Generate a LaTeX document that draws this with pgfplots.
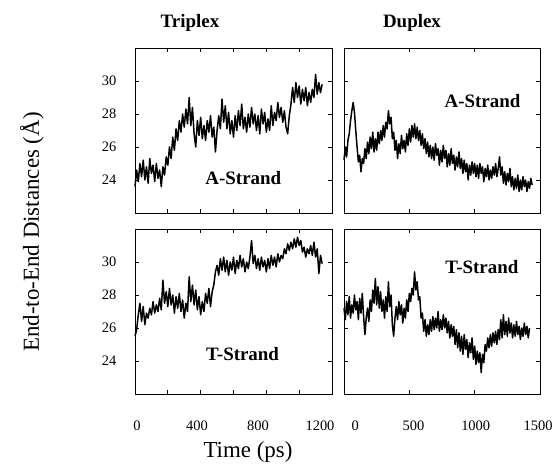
\documentclass[border=0pt]{standalone}
\usepackage{pgfplots}
\pgfplotsset{compat=1.18}
\usepackage{fontspec}
\setmainfont{Liberation Serif}
\tikzset{plab/.style={font=\bfseries\fontsize{19}{22}\selectfont}}
\begin{document}
\begin{tikzpicture}
\useasboundingbox (0,0) rectangle (556bp,466bp);
\pgfplotsset{
  panel/.style={
    scale only axis, width=197bp, height=165bp, anchor=south west,
    ymin=22, ymax=32, ytick={24,26,28,30},
    tick align=inside, major tick length=4bp,
    axis line style={line width=0.8pt},
    every tick/.style={line width=0.8pt, black},
    /pgf/number format/assume math mode=true,
    tick label style={font=\fontsize{14.5}{16}\selectfont},
    xticklabel style={anchor=center, yshift=-32bp},
    yticklabel style={anchor=center, xshift=-26bp},
    clip=false,
  },
  trace/.style={black, line width=1.5pt, no marks, line join=round},
}
% Top-left: Triplex A-strand
\begin{axis}[panel, at={(135bp,253bp)}, xmin=0, xmax=1200, xtick={0,200,...,1200}, xticklabels={}]
\addplot[trace] coordinates {(0,23.6)(10,24.6)(20,23.9)(30,25.0)(40,24.2)(50,25.2)(60,24.0)(70,24.8)(80,23.8)(90,25.3)(100,24.4)(110,24.9)(120,23.9)(130,25.0)(140,24.1)(150,24.6)(160,23.6)(170,24.8)(180,24.3)(190,25.4)(200,24.9)(210,26.0)(220,25.3)(230,26.6)(240,25.8)(250,27.1)(260,26.4)(270,27.6)(280,26.9)(290,28.0)(300,27.2)(310,28.3)(320,27.4)(330,29.0)(340,27.3)(350,28.4)(360,26.8)(370,26.0)(380,27.6)(390,26.7)(400,27.8)(410,26.5)(420,27.3)(430,26.4)(440,27.6)(450,26.9)(460,27.9)(470,26.6)(480,27.2)(490,25.7)(500,27.0)(510,27.9)(520,27.1)(530,28.9)(540,27.5)(550,28.5)(560,27.1)(570,28.1)(580,26.8)(590,27.6)(600,26.6)(610,27.9)(620,27.0)(630,28.2)(640,27.3)(650,28.6)(660,27.1)(670,27.8)(680,26.9)(690,28.0)(700,27.2)(710,28.4)(720,27.4)(730,28.0)(740,27.0)(750,27.9)(760,26.8)(770,28.3)(780,27.4)(790,28.1)(800,26.9)(810,27.7)(820,27.0)(830,28.5)(840,27.3)(850,28.1)(860,27.6)(870,28.7)(880,27.8)(890,28.4)(900,27.5)(910,28.2)(920,27.2)(930,26.8)(940,27.9)(950,28.6)(960,29.6)(970,28.7)(980,29.9)(990,29.0)(1000,29.7)(1010,28.6)(1020,29.5)(1030,28.8)(1040,29.6)(1050,28.5)(1060,29.3)(1070,28.7)(1080,29.5)(1090,29.0)(1100,30.4)(1110,29.2)(1120,29.9)(1130,29.3)(1140,29.8)};
\node[plab] at (axis cs:660,24.1) {A-Strand};
\end{axis}
% Top-right: Duplex A-strand
\begin{axis}[panel, at={(344bp,253bp)}, width=196bp, xmin=0, xmax=1500, xtick={0,500,1000,1500}, xticklabels={}, yticklabels={}]
\addplot[trace] coordinates {(0,25.2)(10,26.0)(20,25.4)(30,26.4)(40,26.8)(50,27.6)(60,28.2)(70,28.7)(80,28.1)(90,27.0)(100,26.0)(110,25.1)(120,25.5)(130,24.5)(140,25.3)(150,25.0)(160,25.9)(170,25.3)(180,26.3)(190,25.6)(200,26.6)(210,25.9)(220,26.9)(230,25.7)(240,26.5)(250,25.8)(260,26.9)(270,26.2)(280,27.0)(290,26.4)(300,27.3)(310,26.6)(320,27.5)(330,27.1)(340,28.2)(350,27.4)(360,27.8)(370,26.5)(380,26.9)(390,25.8)(400,26.4)(410,25.3)(420,26.2)(430,25.6)(440,26.7)(450,25.9)(460,26.4)(470,25.7)(480,26.8)(490,26.1)(500,27.1)(510,26.3)(520,27.3)(530,26.6)(540,27.4)(550,26.5)(560,27.2)(570,26.4)(580,27.0)(590,26.1)(600,26.8)(610,25.9)(620,26.5)(630,25.6)(640,26.3)(650,25.4)(660,26.1)(670,25.3)(680,26.0)(690,25.2)(700,26.2)(710,25.5)(720,25.9)(730,24.9)(740,25.8)(750,25.1)(760,26.1)(770,25.3)(780,25.8)(790,24.8)(800,25.6)(810,24.9)(820,25.9)(830,25.0)(840,25.5)(850,24.6)(860,25.4)(870,24.8)(880,25.7)(890,24.7)(900,25.3)(910,24.4)(920,25.2)(930,24.5)(940,25.0)(950,24.0)(960,24.9)(970,24.3)(980,25.1)(990,24.4)(1000,25.0)(1010,24.2)(1020,24.9)(1030,24.1)(1040,25.0)(1050,24.4)(1060,24.8)(1070,23.9)(1080,24.7)(1090,24.2)(1100,24.9)(1110,24.0)(1120,24.6)(1130,24.1)(1140,24.8)(1150,24.3)(1160,25.0)(1170,24.2)(1180,24.7)(1190,25.4)(1200,24.3)(1210,24.8)(1220,23.8)(1230,24.5)(1240,23.7)(1250,24.4)(1260,23.9)(1270,24.7)(1280,23.6)(1290,24.2)(1300,23.4)(1310,24.1)(1320,23.5)(1330,24.3)(1340,23.3)(1350,24.0)(1360,23.4)(1370,24.2)(1380,23.6)(1390,24.0)(1400,23.3)(1410,23.9)(1420,23.5)(1430,24.1)(1440,23.7)};
\node[plab] at (axis cs:1060,28.8) {A-Strand};
\end{axis}
% Bottom-left: Triplex T-strand
\begin{axis}[panel, at={(135bp,72bp)}, xmin=0, xmax=1200, xtick={0,200,...,1200}, xticklabels={},
  extra x ticks={12,378,749,1127}, extra x tick labels={0,400,800,1200},
  extra x tick style={major tick length=0pt}]
\addplot[trace] coordinates {(0,25.5)(10,25.9)(20,26.8)(30,27.5)(40,26.4)(50,27.3)(60,26.2)(70,26.9)(80,26.6)(90,27.2)(100,26.8)(110,27.6)(120,26.9)(130,27.4)(140,27.0)(150,27.8)(160,27.1)(170,28.9)(180,27.5)(190,28.2)(200,27.3)(210,28.4)(220,27.4)(230,28.0)(240,26.9)(250,27.9)(260,27.2)(270,28.1)(280,27.0)(290,27.7)(300,26.6)(310,27.5)(320,27.0)(330,29.1)(340,27.6)(350,28.6)(360,27.4)(370,28.3)(380,27.1)(390,27.9)(400,26.8)(410,27.6)(420,27.0)(430,28.1)(440,27.5)(450,28.4)(460,27.3)(470,28.2)(480,28.6)(490,29.4)(500,29.8)(510,29.2)(520,30.2)(530,29.5)(540,30.3)(550,29.4)(560,30.1)(570,29.2)(580,30.0)(590,29.5)(600,30.3)(610,29.3)(620,30.1)(630,29.6)(640,30.4)(650,29.7)(660,30.2)(670,29.4)(680,30.0)(690,29.6)(700,30.3)(710,31.3)(720,29.9)(730,30.4)(740,29.6)(750,30.2)(760,29.5)(770,30.3)(780,29.7)(790,30.1)(800,29.4)(810,30.2)(820,29.6)(830,30.4)(840,29.8)(850,30.3)(860,29.7)(870,30.5)(880,30.0)(890,30.4)(900,30.2)(910,30.8)(920,30.5)(930,31.1)(940,30.7)(950,31.2)(960,30.8)(970,31.4)(980,30.9)(990,31.5)(1000,31.0)(1010,31.3)(1020,30.6)(1030,30.9)(1040,30.3)(1050,30.8)(1060,30.5)(1070,31.0)(1080,30.4)(1090,31.2)(1100,30.3)(1110,30.8)(1120,29.3)(1130,30.4)(1140,29.9)};
\node[plab] at (axis cs:655,24.4) {T-Strand};
\end{axis}
% Bottom-right: Duplex T-strand
\begin{axis}[panel, at={(344bp,72bp)}, width=196bp, xmin=0, xmax=1500, xtick={0,500,1000,1500}, xticklabels={}, yticklabels={},
  extra x ticks={85,531,1008,1485}, extra x tick labels={0,500,1000,1500},
  extra x tick style={major tick length=0pt}]
\addplot[trace] coordinates {(0,27.2)(10,26.5)(20,27.6)(30,26.8)(40,27.9)(50,26.6)(60,27.4)(70,26.9)(80,28.0)(90,27.1)(100,27.6)(110,26.5)(120,27.8)(130,26.9)(140,28.1)(150,26.7)(160,25.6)(170,26.6)(180,27.2)(190,26.4)(200,27.7)(210,27.0)(220,28.3)(230,27.5)(240,29.0)(250,27.4)(260,28.5)(270,27.2)(280,28.2)(290,27.0)(300,27.7)(310,26.6)(320,27.9)(330,27.0)(340,28.8)(350,27.3)(360,28.0)(370,26.2)(380,25.5)(390,26.6)(400,27.3)(410,26.5)(420,27.6)(430,26.8)(440,27.4)(450,26.3)(460,27.2)(470,26.6)(480,27.7)(490,27.0)(500,28.1)(510,27.6)(520,28.4)(530,28.0)(540,29.4)(550,28.3)(560,28.8)(570,27.7)(580,27.9)(590,26.6)(600,26.9)(610,25.8)(620,26.5)(630,25.5)(640,26.2)(650,25.6)(660,26.5)(670,25.8)(680,26.7)(690,25.9)(700,26.6)(710,26.0)(720,27.0)(730,25.8)(740,26.5)(750,25.9)(760,26.8)(770,26.0)(780,26.6)(790,25.7)(800,26.4)(810,25.4)(820,26.2)(830,25.5)(840,26.1)(850,25.0)(860,25.9)(870,24.8)(880,25.7)(890,24.6)(900,25.5)(910,24.4)(920,25.6)(930,24.7)(940,25.3)(950,24.2)(960,25.1)(970,24.5)(980,25.4)(990,24.1)(1000,24.9)(1010,23.8)(1020,24.6)(1030,23.9)(1040,24.5)(1050,23.3)(1060,24.4)(1070,23.9)(1080,25.0)(1090,24.6)(1100,25.4)(1110,24.8)(1120,25.6)(1130,24.9)(1140,25.7)(1150,25.1)(1160,25.8)(1170,25.0)(1180,25.9)(1190,25.3)(1200,26.5)(1210,25.4)(1220,26.8)(1230,25.6)(1240,26.4)(1250,25.5)(1260,26.6)(1270,25.7)(1280,26.3)(1290,25.4)(1300,26.2)(1310,25.5)(1320,26.4)(1330,25.6)(1340,26.1)(1350,25.3)(1360,26.0)(1370,25.5)(1380,26.3)(1390,25.6)(1400,26.1)(1410,25.4)(1420,26.0)};
\node[plab] at (axis cs:1055,29.7) {T-Strand};
\end{axis}
\node[font=\bfseries\fontsize{19}{22}\selectfont] at (190bp,443bp) {Triplex};
\node[font=\bfseries\fontsize{19}{22}\selectfont] at (412bp,443bp) {Duplex};
\node[font=\fontsize{23}{27}\selectfont, rotate=90] at (32bp,234bp) {End-to-End Distances (Å)};
\node[font=\fontsize{23}{27}\selectfont] at (248bp,14bp) {Time (ps)};
\end{tikzpicture}
\end{document}
